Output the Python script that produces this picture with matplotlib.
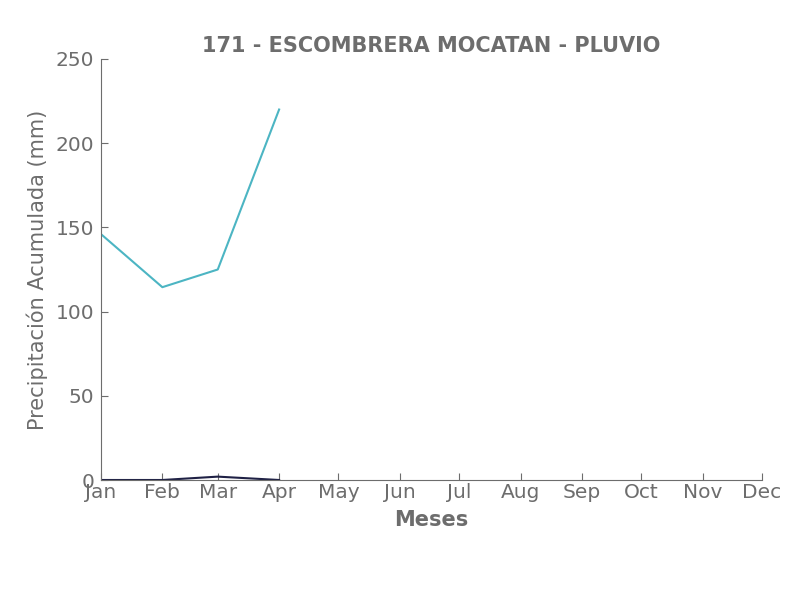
import datetime as dt

import matplotlib
matplotlib.use("Agg")
import matplotlib.dates as mdates
import matplotlib.pyplot as plt

months = [dt.date(2021, m, 1) for m in range(1, 5)]
acumulada = [146, 114.5, 125, 220]
mensual = [0, 0, 2, 0]

grey = "#6d6d6d"
plt.rcParams["font.family"] = "DejaVu Sans"

fig = plt.figure(figsize=(8.06, 6.0), dpi=100)
ax = fig.add_axes([101 / 806, 120 / 600, 661 / 806, 421 / 600])

ax.plot(months, acumulada, color="#4cb5c3", lw=1.5)
ax.plot(months, mensual, color="#1f2145", lw=1.5)

ax.set_xlim(dt.date(2021, 1, 1), dt.date(2021, 12, 1))
ax.set_ylim(0, 250)
ax.xaxis.set_major_locator(mdates.MonthLocator())
ax.xaxis.set_major_formatter(mdates.DateFormatter("%b"))
ax.set_yticks([0, 50, 100, 150, 200, 250])

for side in ["top", "right"]:
    ax.spines[side].set_visible(False)
for side in ["left", "bottom"]:
    ax.spines[side].set_color(grey)
ax.tick_params(direction="in", colors=grey, labelcolor=grey, labelsize=14.5,
               length=5)
ax.tick_params(axis="y", pad=5)
ax.tick_params(axis="x", pad=2)

ax.set_title("171 - ESCOMBRERA MOCATAN - PLUVIO", color=grey, fontsize=15,
             fontweight="bold", pad=5)
ax.set_xlabel("Meses", color=grey, fontsize=15, fontweight="bold", labelpad=6)
ax.set_ylabel("Precipitación Acumulada (mm)", color=grey, fontsize=15, labelpad=5)

fig.savefig("out.png", dpi=100)
